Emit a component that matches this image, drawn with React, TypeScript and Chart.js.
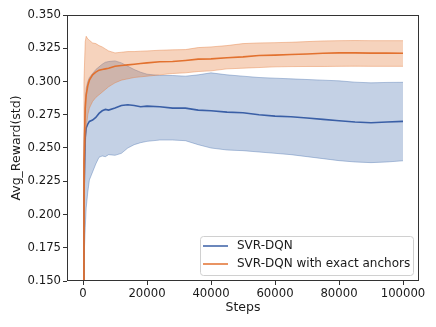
import React, { useEffect, useRef } from "react";
import { Chart, registerables } from "chart.js";
Chart.register(...registerables);

const steps = [0, 300, 700, 1000, 1500, 2000, 3000, 4000, 5000, 6000, 7000, 8000, 10000, 12000, 14000, 16000, 18000, 20000, 24000, 28000, 32000, 36000, 40000, 45000, 50000, 55000, 60000, 65000, 70000, 75000, 80000, 85000, 90000, 95000, 100000];

const blueMean = [0.150, 0.215, 0.258, 0.265, 0.268, 0.270, 0.271, 0.273, 0.276, 0.278, 0.279, 0.2785, 0.280, 0.282, 0.2825, 0.282, 0.281, 0.2815, 0.281, 0.280, 0.280, 0.2785, 0.278, 0.277, 0.2765, 0.275, 0.274, 0.2735, 0.2725, 0.2715, 0.2705, 0.2695, 0.269, 0.2695, 0.270];
const blueUpper = [0.150, 0.255, 0.285, 0.295, 0.300, 0.303, 0.306, 0.309, 0.311, 0.313, 0.3145, 0.315, 0.3155, 0.314, 0.3115, 0.309, 0.307, 0.3055, 0.3045, 0.3045, 0.304, 0.305, 0.3065, 0.305, 0.304, 0.303, 0.3025, 0.302, 0.3015, 0.301, 0.3005, 0.2995, 0.299, 0.2993, 0.2994];
const blueLower = [0.150, 0.165, 0.190, 0.205, 0.217, 0.226, 0.232, 0.238, 0.243, 0.244, 0.2435, 0.245, 0.2445, 0.246, 0.250, 0.2525, 0.254, 0.255, 0.256, 0.256, 0.2555, 0.2525, 0.250, 0.2485, 0.248, 0.247, 0.246, 0.245, 0.2435, 0.242, 0.2405, 0.2395, 0.239, 0.2395, 0.2404];

const orangeMean = [0.150, 0.240, 0.280, 0.290, 0.297, 0.301, 0.305, 0.307, 0.3085, 0.309, 0.3095, 0.310, 0.3115, 0.312, 0.3125, 0.313, 0.3135, 0.314, 0.3148, 0.315, 0.3158, 0.3168, 0.317, 0.3178, 0.3185, 0.3195, 0.3198, 0.3203, 0.3207, 0.3212, 0.3215, 0.3215, 0.3213, 0.3213, 0.3212];
const orangeUpper = [0.150, 0.300, 0.330, 0.334, 0.332, 0.331, 0.329, 0.3285, 0.327, 0.326, 0.3245, 0.323, 0.3215, 0.322, 0.3225, 0.3225, 0.3228, 0.323, 0.3235, 0.3238, 0.324, 0.3255, 0.326, 0.327, 0.3285, 0.329, 0.3292, 0.3295, 0.330, 0.3305, 0.3307, 0.3308, 0.3307, 0.3307, 0.3307];
const orangeLower = [0.150, 0.200, 0.250, 0.265, 0.275, 0.280, 0.285, 0.288, 0.290, 0.292, 0.294, 0.296, 0.299, 0.301, 0.302, 0.303, 0.3035, 0.304, 0.305, 0.306, 0.3065, 0.3075, 0.308, 0.3095, 0.310, 0.3105, 0.311, 0.3112, 0.3113, 0.3113, 0.3114, 0.3115, 0.3114, 0.3114, 0.3114];

const xTicks = [0, 20000, 40000, 60000, 80000, 100000];
const yTicks = [0.15, 0.175, 0.2, 0.225, 0.25, 0.275, 0.3, 0.325, 0.35];
const seriesNames = ["SVR-DQN", "SVR-DQN with exact anchors"];

const BLUE_LINE = "#3a5fa6";
const BLUE_FILL = "rgba(76,114,176,0.33)";
const BLUE_EDGE = "rgba(76,114,176,0.5)";
const ORANGE_LINE = "#e2712f";
const ORANGE_FILL = "rgba(228,120,55,0.33)";
const ORANGE_EDGE = "rgba(228,120,55,0.5)";
const FONT = "'DejaVu Sans', sans-serif";
const TEXT = "#1a1a1a";

export default function App() {
  const ref = useRef<HTMLCanvasElement>(null);
  useEffect(() => {
    const pts = (ys: number[]) => steps.map((x, i) => ({ x, y: ys[i] }));
    const frame = {
      id: "frame",
      afterDraw(chart: any) {
        const { ctx, chartArea: a } = chart;
        ctx.save();
        ctx.strokeStyle = "#333";
        ctx.lineWidth = 1;
        ctx.strokeRect(a.left + 0.5, a.top + 0.5, a.right - a.left - 1, a.bottom - a.top - 1);
        // legend
        const lx = 200, ly = 236, lw = 213, lh = 39;
        ctx.fillStyle = "rgba(255,255,255,0.85)";
        ctx.strokeStyle = "#d0d0d0";
        ctx.beginPath();
        ctx.roundRect(lx + 0.5, ly + 0.5, lw, lh, 3);
        ctx.fill();
        ctx.stroke();
        const colors = [BLUE_LINE, ORANGE_LINE];
        ctx.font = `12px ${FONT}`;
        ctx.textBaseline = "middle";
        seriesNames.forEach((n, i) => {
          const y = ly + 10 + i * 18;
          ctx.strokeStyle = colors[i];
          ctx.lineWidth = 1.5;
          ctx.beginPath();
          ctx.moveTo(lx + 3, y);
          ctx.lineTo(lx + 28, y);
          ctx.stroke();
          ctx.fillStyle = TEXT;
          ctx.fillText(n, lx + 37, y);
        });
        ctx.restore();
      },
    };
    const band = (ys: number[], fill: any, edge: string, order: number, f: any) => ({
      label: "",
      data: pts(ys),
      fill: f,
      backgroundColor: fill,
      borderColor: edge,
      borderWidth: 0.8,
      pointRadius: 0,
      tension: 0,
      order,
    });
    const chart = new Chart(ref.current!, {
      type: "line",
      data: {
        datasets: [
          band(blueUpper, BLUE_FILL, BLUE_EDGE, 6, "+1"),
          band(blueLower, BLUE_FILL, BLUE_EDGE, 6, false),
          { label: seriesNames[0], data: pts(blueMean), borderColor: BLUE_LINE, borderWidth: 1.6, pointRadius: 0, fill: false, order: 5 },
          band(orangeUpper, ORANGE_FILL, ORANGE_EDGE, 4, "+1"),
          band(orangeLower, ORANGE_FILL, ORANGE_EDGE, 4, false),
          { label: seriesNames[1], data: pts(orangeMean), borderColor: ORANGE_LINE, borderWidth: 1.6, pointRadius: 0, fill: false, order: 3 },
        ] as any,
      },
      options: {
        animation: false,
        responsive: false,
        devicePixelRatio: 1,
        layout: { padding: { top: 15, right: 17, left: 0, bottom: 0 } },
        plugins: { legend: { display: false }, tooltip: { enabled: false } },
        scales: {
          x: {
            type: "linear",
            min: -5000,
            max: 105000,
            afterBuildTicks: (s: any) => { s.ticks = xTicks.map((v) => ({ value: v })); },
            afterFit: (s: any) => { s.height = 46; },
            ticks: { callback: (v: any) => String(v), font: { family: FONT, size: 11.7 }, color: TEXT, padding: 2, maxRotation: 0, autoSkip: false },
            grid: { display: true, drawOnChartArea: false, drawTicks: true, tickLength: 4, color: "#333" },
            border: { display: false },
            title: { display: true, text: "Steps", font: { family: FONT, size: 12.5 }, color: TEXT, padding: { top: 0, bottom: 12 } },
          },
          y: {
            type: "linear",
            min: 0.15,
            max: 0.35,
            afterBuildTicks: (s: any) => { s.ticks = yTicks.map((v) => ({ value: v })); },
            afterFit: (s: any) => { s.width = 67; },
            ticks: { callback: (v: any) => Number(v).toFixed(3), font: { family: FONT, size: 11.7 }, color: TEXT, padding: 2, autoSkip: false },
            grid: { display: true, drawOnChartArea: false, drawTicks: true, tickLength: 4, color: "#333" },
            border: { display: false },
            title: { display: true, text: "Avg_Reward(std)", font: { family: FONT, size: 12.5 }, color: TEXT, padding: { top: 9, bottom: 0 } },
          },
        },
      },
      plugins: [frame],
    } as any);
    return () => chart.destroy();
  }, []);
  return (
    <div style={{ position: "absolute", left: 0, top: 0, width: 436, height: 327, background: "#fff" }}>
      <canvas ref={ref} width={436} height={327} style={{ width: 436, height: 327, display: "block" }} />
    </div>
  );
}
